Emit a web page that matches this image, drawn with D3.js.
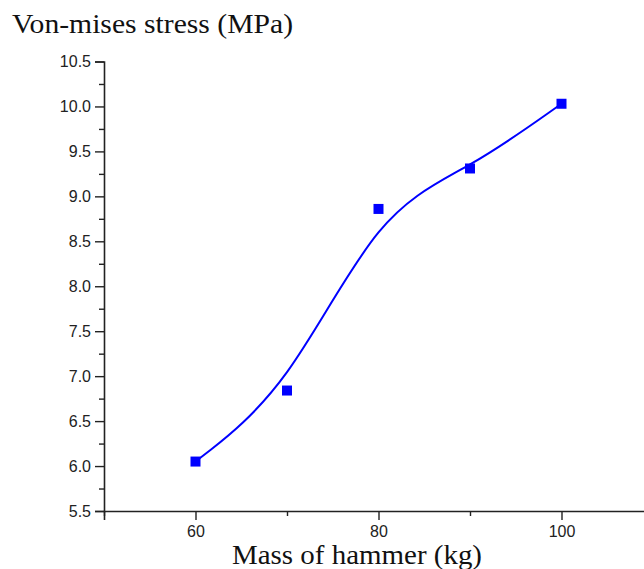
<!DOCTYPE html>
<html><head><meta charset="utf-8">
<script src="https://cdn.jsdelivr.net/npm/d3@7"></script>
<style>body{margin:0;background:#fff;} svg{display:block;}</style>
</head><body>
<svg id="c" width="644" height="569"></svg>
<script>
const masses = [60, 70, 80, 90, 100];
const stress = [6.05, 6.84, 8.86, 9.31, 10.03];
const xTickValues = [50, 60, 70, 80, 90, 100, 110];
const xTickLabels = {60: "60", 80: "80", 100: "100"};
const yTickValues = [5.5, 6.0, 6.5, 7.0, 7.5, 8.0, 8.5, 9.0, 9.5, 10.0, 10.5];
const yMinorValues = [5.75, 6.25, 6.75, 7.25, 7.75, 8.25, 8.75, 9.25, 9.75, 10.25];
const yTitle = "Von-mises stress (MPa)";
const xTitle = "Mass of hammer (kg)";

const svg = d3.select("#c");
const x = d3.scaleLinear().domain([50, 110]).range([104, 653]);
const y = d3.scaleLinear().domain([5.5, 10.5]).range([511, 61.5]);
const tickFont = "Arial, 'Liberation Sans', sans-serif";

// x axis
const xAxis = d3.axisBottom(x).tickValues(xTickValues)
  .tickFormat(d => xTickLabels[d] || "").tickSizeOuter(0).tickSize(9).tickPadding(6);
const gx = svg.append("g").attr("transform", `translate(0,${y(5.5)})`).call(xAxis);
gx.selectAll(".tick line").attr("y2", d => xTickLabels[d] ? 9 : 5);
gx.selectAll("text").attr("font-family", tickFont).attr("font-size", 16)
  .attr("fill", "#222");
gx.select(".domain").attr("stroke-width", 1.6).attr("stroke", "#222");
gx.selectAll(".tick line").attr("stroke-width", 1.4).attr("stroke", "#222");

// y axis
const yAxis = d3.axisLeft(y).tickValues(yTickValues).tickFormat(d3.format(".1f"))
  .tickSizeOuter(0).tickSize(9).tickPadding(4);
const gy = svg.append("g").attr("transform", `translate(${x(50)},0)`).call(yAxis);
gy.selectAll("text").attr("font-family", tickFont).attr("font-size", 16)
  .attr("fill", "#222");
gy.select(".domain").attr("stroke-width", 1.6).attr("stroke", "#222");
gy.selectAll(".tick line").attr("stroke-width", 1.4).attr("stroke", "#222");
const gym = svg.append("g").attr("transform", `translate(${x(50)},0)`)
  .call(d3.axisLeft(y).tickValues(yMinorValues).tickFormat("").tickSize(5).tickSizeOuter(0));
gym.select(".domain").remove();
gym.selectAll(".tick line").attr("stroke-width", 1.4).attr("stroke", "#222");

// curve
const data = masses.map((m, i) => ({m, s: stress[i]}));
svg.append("path").datum(data)
  .attr("fill", "none").attr("stroke", "#0000ff").attr("stroke-width", 2)
  .attr("d", d3.line().x(d => x(d.m)).y(d => y(d.s)).curve(d3.curveBasis));

// markers
svg.selectAll("rect.pt").data(data).enter().append("rect").attr("class", "pt")
  .attr("x", d => x(d.m) - 5).attr("y", d => y(d.s) - 5)
  .attr("width", 10).attr("height", 10).attr("fill", "#0000ff");

// titles
const titleFont = "'Times New Roman', 'Liberation Serif', serif";
svg.append("text").attr("x", 12).attr("y", 33)
  .attr("font-family", titleFont).attr("font-size", 28)
  .attr("textLength", 281).attr("lengthAdjust", "spacingAndGlyphs")
  .attr("fill", "#111").text(yTitle);
svg.append("text").attr("x", 232).attr("y", 564)
  .attr("font-family", titleFont).attr("font-size", 27)
  .attr("textLength", 250).attr("lengthAdjust", "spacingAndGlyphs")
  .attr("fill", "#111").text(xTitle);
</script>
</body></html>
